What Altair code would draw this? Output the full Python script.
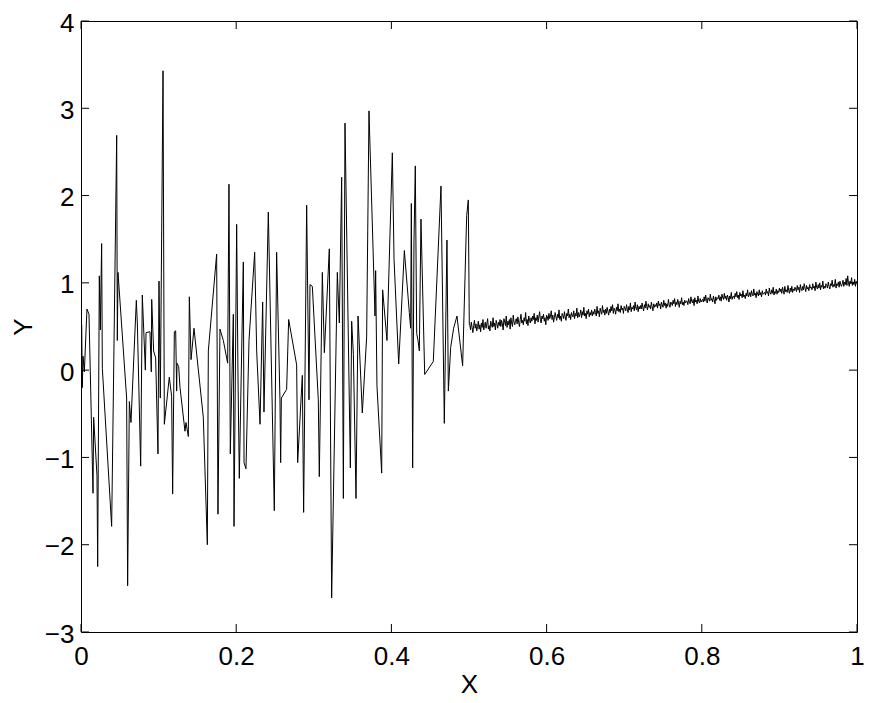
import altair as alt
import pandas as pd

# ---- data ----
left_x = [0.0009, 0.0017, 0.0026, 0.0043, 0.0077, 0.0103, 0.0155, 0.0163, 0.0206, 0.0215,
          0.0236, 0.0249, 0.0266, 0.0275, 0.0395, 0.0460, 0.0468, 0.0477, 0.0588, 0.0601,
          0.0623, 0.0644, 0.0713, 0.0726, 0.0769, 0.0790, 0.0829, 0.0838, 0.0889, 0.0906,
          0.0911, 0.0936, 0.0962, 0.0992, 0.1005, 0.1022, 0.1057, 0.1074, 0.1138, 0.1168,
          0.1181, 0.1203, 0.1220, 0.1233, 0.1237, 0.1259, 0.1276, 0.1340, 0.1353, 0.1383,
          0.1396, 0.1418, 0.1456, 0.1576, 0.1628, 0.1641, 0.1748, 0.1765, 0.1791, 0.1834,
          0.1890, 0.1907, 0.1924, 0.1963, 0.1972, 0.2006, 0.2023, 0.2040, 0.2092, 0.2101,
          0.2126, 0.2165, 0.2238, 0.2264, 0.2307, 0.2341, 0.2358, 0.2414, 0.2491, 0.2521,
          0.2564, 0.2573, 0.2582, 0.2650, 0.2676, 0.2779, 0.2792, 0.2852, 0.2869, 0.2908,
          0.2938, 0.2951, 0.2981, 0.3058, 0.3071, 0.3110, 0.3136, 0.3200, 0.3230, 0.3303,
          0.3329, 0.3359, 0.3381, 0.3402, 0.3471, 0.3488, 0.3510, 0.3544, 0.3570, 0.3625,
          0.3681, 0.3711, 0.3789, 0.3797, 0.3814, 0.3875, 0.3887, 0.3943, 0.4012, 0.4034,
          0.4094, 0.4167, 0.4231, 0.4248, 0.4257, 0.4274, 0.4291, 0.4308, 0.4326, 0.4343,
          0.4360, 0.4381, 0.4429, 0.4540, 0.4639, 0.4682, 0.4716, 0.4734, 0.4764, 0.4802,
          0.4845, 0.4918, 0.4970, 0.4991, 0.5004]
left_y = [0.52, -0.20, 0.16, -0.02, 0.70, 0.64, -1.41, -0.54, -1.21, -2.25,
          1.08, 0.46, 1.45, 0.02, -1.79, 2.69, 0.34, 1.12, -0.32, -2.47,
          -0.36, -0.60, 0.80, 0.54, -1.10, 0.86, 0.00, 0.43, 0.44, -0.02,
          0.81, 0.22, 0.14, -0.96, 1.02, -0.32, 3.43, -0.62, -0.08, -0.30,
          -1.42, 0.44, 0.45, -0.24, 0.08, 0.04, -0.20, -0.70, -0.60, -0.76,
          0.84, 0.12, 0.48, -0.54, -2.00, 0.22, 1.33, -1.65, 0.47, 0.34,
          0.08, 2.13, -0.96, 0.64, -1.79, 1.67, -0.08, -1.24, 1.24, -1.06,
          -1.13, 0.34, 1.35, 0.22, -0.62, 0.78, -0.48, 1.81, -1.61, 1.35,
          -0.34, -1.06, -0.32, -0.22, 0.58, 0.06, -1.06, -0.06, -1.63, 1.89,
          -0.34, 0.98, 0.96, -0.34, -1.22, 1.12, 0.20, 1.39, -2.61, 1.12,
          0.54, 2.21, -1.47, 2.83, -1.12, 0.56, 0.18, -1.47, 0.62, -0.49,
          0.38, 2.97, 0.62, 1.14, -0.18, -1.18, 0.92, 0.34, 2.49, 1.27,
          0.07, 1.37, 0.66, 0.48, 1.91, -1.12, 1.47, 2.34, 0.42, 0.34,
          0.22, 1.73, -0.05, 0.10, 2.11, -0.61, 1.49, -0.24, 0.26, 0.48,
          0.62, 0.05, 1.77, 1.95, 0.52]

# dense, low-noise part: one value every 0.001 from x = 0.501 to x = 1.000
dense_start = 0.501
dense_step = 0.001
dense_y = [
    0.52, 0.46, 0.55, 0.49, 0.43, 0.51, 0.57, 0.48, 0.53, 0.45, 0.50, 0.56, 0.47, 0.52, 0.44, 0.54, 0.49, 0.58, 0.46, 0.51,
    0.55, 0.48, 0.53, 0.59, 0.47, 0.51, 0.45, 0.56, 0.52, 0.49, 0.60, 0.50, 0.54, 0.46, 0.57, 0.53, 0.48, 0.55, 0.51, 0.58,
    0.50, 0.57, 0.53, 0.46, 0.59, 0.55, 0.51, 0.62, 0.49, 0.56, 0.52, 0.58, 0.47, 0.60, 0.54, 0.50, 0.63, 0.55, 0.52, 0.57,
    0.59, 0.53, 0.61, 0.55, 0.50, 0.58, 0.64, 0.54, 0.57, 0.52, 0.60, 0.56, 0.66, 0.53, 0.58, 0.51, 0.62, 0.57, 0.54, 0.60,
    0.56, 0.62, 0.58, 0.65, 0.53, 0.60, 0.57, 0.63, 0.55, 0.61, 0.67, 0.58, 0.54, 0.62, 0.59, 0.64, 0.56, 0.60, 0.52, 0.63,
    0.61, 0.57, 0.65, 0.59, 0.62, 0.68, 0.58, 0.63, 0.55, 0.60, 0.66, 0.61, 0.57, 0.64, 0.60, 0.69, 0.58, 0.62, 0.56, 0.65,
    0.63, 0.59, 0.67, 0.61, 0.57, 0.65, 0.62, 0.70, 0.60, 0.64, 0.58, 0.66, 0.63, 0.61, 0.68, 0.59, 0.65, 0.62, 0.71, 0.60,
    0.66, 0.61, 0.64, 0.69, 0.60, 0.67, 0.63, 0.72, 0.62, 0.65, 0.59, 0.68, 0.64, 0.70, 0.61, 0.66, 0.63, 0.69, 0.62, 0.67,
    0.64, 0.70, 0.66, 0.62, 0.73, 0.65, 0.68, 0.61, 0.71, 0.67, 0.64, 0.74, 0.66, 0.69, 0.63, 0.70, 0.65, 0.72, 0.67, 0.63,
    0.70, 0.66, 0.73, 0.68, 0.75, 0.65, 0.71, 0.69, 0.64, 0.72, 0.68, 0.76, 0.67, 0.70, 0.66, 0.74, 0.69, 0.71, 0.65, 0.73,
    0.71, 0.68, 0.75, 0.70, 0.66, 0.73, 0.69, 0.77, 0.67, 0.72, 0.70, 0.74, 0.68, 0.78, 0.71, 0.69, 0.75, 0.67, 0.73, 0.70,
    0.74, 0.70, 0.77, 0.72, 0.68, 0.75, 0.71, 0.79, 0.73, 0.69, 0.76, 0.72, 0.74, 0.70, 0.78, 0.73, 0.68, 0.76, 0.72, 0.75,
    0.73, 0.77, 0.71, 0.79, 0.74, 0.76, 0.70, 0.78, 0.75, 0.72, 0.80, 0.74, 0.77, 0.71, 0.76, 0.73, 0.81, 0.75, 0.72, 0.78,
    0.77, 0.74, 0.80, 0.76, 0.82, 0.73, 0.78, 0.75, 0.81, 0.77, 0.72, 0.79, 0.76, 0.83, 0.75, 0.78, 0.74, 0.80, 0.77, 0.79,
    0.79, 0.75, 0.82, 0.78, 0.76, 0.84, 0.79, 0.77, 0.81, 0.74, 0.83, 0.78, 0.80, 0.76, 0.85, 0.79, 0.77, 0.82, 0.78, 0.80,
    0.81, 0.78, 0.84, 0.79, 0.86, 0.80, 0.77, 0.83, 0.81, 0.79, 0.87, 0.80, 0.82, 0.78, 0.85, 0.81, 0.76, 0.84, 0.80, 0.83,
    0.82, 0.86, 0.80, 0.84, 0.79, 0.87, 0.83, 0.81, 0.88, 0.82, 0.85, 0.80, 0.86, 0.83, 0.78, 0.85, 0.82, 0.89, 0.81, 0.84,
    0.85, 0.82, 0.88, 0.84, 0.90, 0.83, 0.86, 0.81, 0.89, 0.85, 0.87, 0.83, 0.91, 0.84, 0.86, 0.82, 0.88, 0.85, 0.92, 0.84,
    0.86, 0.89, 0.84, 0.91, 0.87, 0.85, 0.93, 0.86, 0.88, 0.83, 0.90, 0.87, 0.85, 0.92, 0.86, 0.89, 0.84, 0.91, 0.87, 0.88,
    0.89, 0.86, 0.93, 0.88, 0.90, 0.85, 0.94, 0.89, 0.87, 0.92, 0.88, 0.95, 0.86, 0.90, 0.88, 0.93, 0.87, 0.91, 0.89, 0.94,
    0.90, 0.93, 0.88, 0.95, 0.91, 0.87, 0.96, 0.90, 0.92, 0.89, 0.97, 0.91, 0.88, 0.94, 0.90, 0.96, 0.89, 0.93, 0.91, 0.95,
    0.93, 0.90, 0.97, 0.92, 0.95, 0.89, 0.98, 0.93, 0.91, 0.96, 0.92, 0.99, 0.94, 0.90, 0.97, 0.93, 0.95, 0.91, 0.98, 0.94,
    0.95, 0.92, 0.99, 0.94, 0.96, 0.91, 1.01, 0.95, 0.93, 0.98, 0.94, 1.00, 0.92, 0.97, 0.95, 1.02, 0.93, 0.96, 0.94, 0.99,
    0.97, 0.94, 1.01, 0.96, 0.93, 0.99, 0.97, 1.03, 0.95, 0.98, 0.96, 1.04, 0.94, 0.99, 0.97, 1.01, 0.95, 1.02, 0.98, 0.96,
    0.99, 1.03, 0.96, 1.01, 0.98, 1.05, 0.97, 1.08, 1.00, 0.96, 1.02, 0.99, 1.06, 0.97, 1.01, 0.98, 1.04, 0.96, 1.02, 0.99,
]

x_ticks = [0, 0.2, 0.4, 0.6, 0.8, 1]
y_ticks = [-3, -2, -1, 0, 1, 2, 3, 4]

dense_x = [round(dense_start + dense_step * i, 4) for i in range(len(dense_y))]
df = pd.DataFrame({"x": left_x + dense_x, "y": left_y + dense_y})

W, H = 776, 611
TICK = 8
FONT = "Liberation Sans"
FS = 26

xs = alt.Scale(domain=[0, 1], nice=False, zero=False)
ys = alt.Scale(domain=[-3, 4], nice=False, zero=False)

x_axis = alt.Axis(values=x_ticks, format="~g", title="X", labelFlush=False,
                  labelOverlap=False, labelPadding=11,
                  titleBaseline="alphabetic", titleY=60)
y_axis = alt.Axis(values=y_ticks, format="~g", title="Y", labelFlush=False,
                  labelOverlap=False, labelPadding=7, labelOffset=2,
                  titleAngle=270, titleBaseline="middle",
                  titleX=-58, titleY=H / 2, titleAlign="center")

line = alt.Chart(df).mark_line(color="black", strokeWidth=1).encode(
    x=alt.X("x:Q", scale=xs, axis=x_axis),
    y=alt.Y("y:Q", scale=ys, axis=y_axis),
)

xt = pd.DataFrame({"x": x_ticks})
yt = pd.DataFrame({"y": y_ticks})

tick_bottom = alt.Chart(xt).mark_rule(color="black", strokeWidth=1).encode(
    x=alt.X("x:Q", scale=xs, axis=x_axis), y=alt.value(H), y2=alt.value(H - TICK))
tick_top = alt.Chart(xt).mark_rule(color="black", strokeWidth=1).encode(
    x=alt.X("x:Q", scale=xs, axis=x_axis), y=alt.value(0), y2=alt.value(TICK))
tick_left = alt.Chart(yt).mark_rule(color="black", strokeWidth=1).encode(
    y=alt.Y("y:Q", scale=ys, axis=y_axis), x=alt.value(0), x2=alt.value(TICK))
tick_right = alt.Chart(yt).mark_rule(color="black", strokeWidth=1).encode(
    y=alt.Y("y:Q", scale=ys, axis=y_axis), x=alt.value(W), x2=alt.value(W - TICK))

chart = alt.layer(line, tick_bottom, tick_top, tick_left, tick_right).properties(
    width=W, height=H,
    background="white",
    autosize=alt.AutoSizeParams(type="none"),
    padding={"left": 73, "top": 13, "right": 7, "bottom": 66},
).configure_view(
    stroke="black", strokeWidth=1
).configure_axis(
    domain=False, grid=False, ticks=False, tickSize=0,
    labelFont=FONT, labelFontSize=FS, labelColor="black",
    titleFont=FONT, titleFontSize=FS, titleColor="black", titleFontWeight="normal",
)

chart.save("out.html", embed_options={"renderer": "svg", "actions": False})
